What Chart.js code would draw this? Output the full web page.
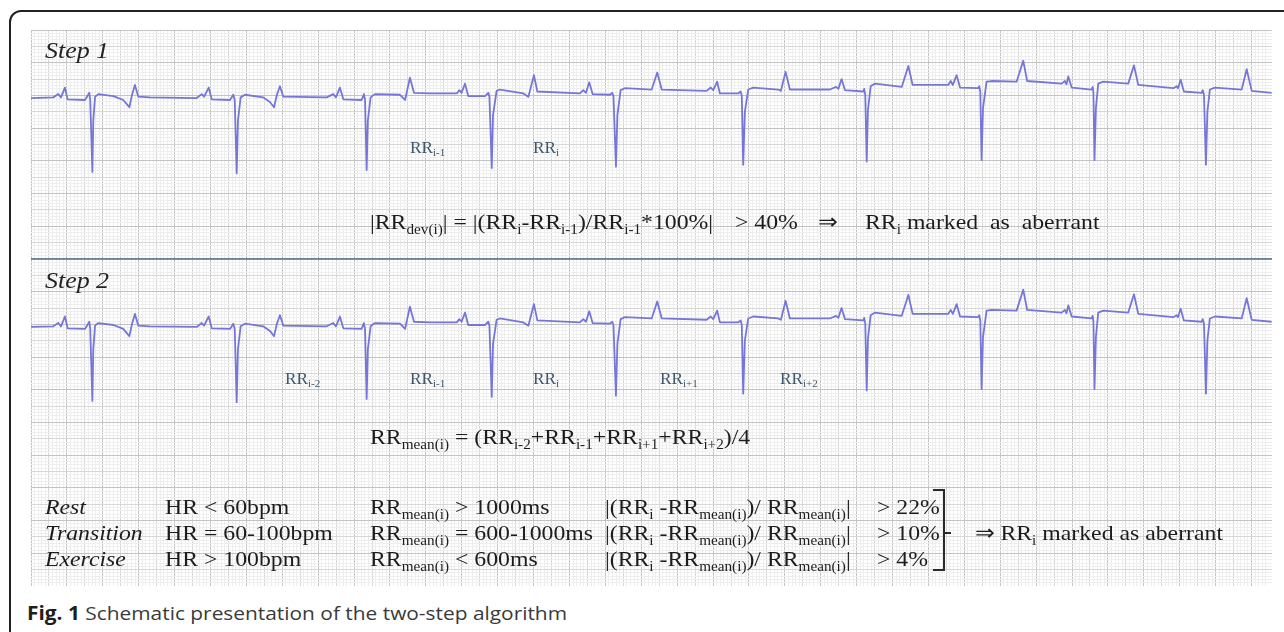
<!DOCTYPE html>
<html>
<head>
<meta charset="utf-8">
<script src="https://cdn.jsdelivr.net/npm/chart.js@4.4.1/dist/chart.umd.min.js"></script>
<style>
  html,body{margin:0;padding:0;background:#fff;}
  #page{position:relative;width:1284px;height:632px;overflow:hidden;background:#fff;}
  #frame{position:absolute;left:9px;top:10px;width:1320px;height:700px;border:2px solid #222;border-radius:12px;box-sizing:border-box;}
  #ecg{position:absolute;left:31px;top:30px;}
  .t{position:absolute;white-space:nowrap;line-height:1;font-family:"Liberation Serif","Times New Roman",serif;color:#1c1c1c;transform:scaleX(1.08);transform-origin:0 0;z-index:2;}
  .t sub{font-size:64%;vertical-align:-0.34em;line-height:0;}
  .step{font-size:24px;font-style:italic;color:#222;}
  .rr{font-size:16px;color:#3e566e;}
  .f{font-size:22px;}
  .it{font-style:italic;}
  #bracket{position:absolute;left:933px;top:489px;width:10px;height:78px;border:2px solid #2a2a2a;border-left:none;z-index:2;}
  #btick{position:absolute;left:945px;top:532px;width:6px;height:2px;background:#2a2a2a;z-index:2;}
  #cap{position:absolute;left:27px;top:604px;white-space:nowrap;line-height:1;font-family:"Open Sans",sans-serif;font-size:19px;color:#3a3a3a;transform-origin:0 0;}
  #cap b{color:#1e1e1e;}
</style>
</head>
<body>
<div id="page">
  <div id="frame"></div>
  <canvas id="ecg" width="1241" height="556"></canvas>

  <div class="t step" style="left:45px;top:38px;">Step 1</div>
  <div class="t step" style="left:45px;top:268px;">Step 2</div>

  <div class="t rr" style="left:410px;top:140px;">RR<sub>i-1</sub></div>
  <div class="t rr" style="left:533px;top:140px;">RR<sub>i</sub></div>

  <div class="t f" style="left:370px;top:211px;">|RR<sub>dev(i)</sub>| = |(RR<sub>i</sub>-RR<sub>i-1</sub>)/RR<sub>i-1</sub>*100%|</div>
  <div class="t f" style="left:735px;top:211px;">&gt; 40%</div>
  <div class="t f" style="left:818px;top:211px;">&rArr;</div>
  <div class="t f" style="left:865px;top:211px;">RR<sub>i</sub> marked&nbsp; as&nbsp; aberrant</div>

  <div class="t rr" style="left:285px;top:371px;">RR<sub>i-2</sub></div>
  <div class="t rr" style="left:410px;top:371px;">RR<sub>i-1</sub></div>
  <div class="t rr" style="left:533px;top:371px;">RR<sub>i</sub></div>
  <div class="t rr" style="left:660px;top:371px;">RR<sub>i+1</sub></div>
  <div class="t rr" style="left:780px;top:371px;">RR<sub>i+2</sub></div>

  <div class="t f" style="left:370px;top:426px;">RR<sub>mean(i)</sub> = (RR<sub>i-2</sub>+RR<sub>i-1</sub>+RR<sub>i+1</sub>+RR<sub>i+2</sub>)/4</div>

  <div class="t f it" style="left:45px;top:496px;">Rest</div>
  <div class="t f" style="left:165px;top:496px;">HR &lt; 60bpm</div>
  <div class="t f" style="left:370px;top:496px;">RR<sub>mean(i)</sub> &gt; 1000ms</div>
  <div class="t f" style="left:605px;top:496px;">|(RR<sub>i</sub> -RR<sub>mean(i)</sub>)/ RR<sub>mean(i)</sub>|</div>
  <div class="t f" style="left:877px;top:496px;">&gt; 22%</div>

  <div class="t f it" style="left:45px;top:522px;">Transition</div>
  <div class="t f" style="left:165px;top:522px;">HR = 60-100bpm</div>
  <div class="t f" style="left:370px;top:522px;">RR<sub>mean(i)</sub> = 600-1000ms</div>
  <div class="t f" style="left:605px;top:522px;">|(RR<sub>i</sub> -RR<sub>mean(i)</sub>)/ RR<sub>mean(i)</sub>|</div>
  <div class="t f" style="left:877px;top:522px;">&gt; 10%</div>
  <div class="t f" style="left:975px;top:522px;">&rArr; RR<sub>i</sub> marked as aberrant</div>

  <div class="t f it" style="left:45px;top:548px;">Exercise</div>
  <div class="t f" style="left:165px;top:548px;">HR &gt; 100bpm</div>
  <div class="t f" style="left:370px;top:548px;">RR<sub>mean(i)</sub> &lt; 600ms</div>
  <div class="t f" style="left:605px;top:548px;">|(RR<sub>i</sub> -RR<sub>mean(i)</sub>)/ RR<sub>mean(i)</sub>|</div>
  <div class="t f" style="left:877px;top:548px;">&gt; 4%</div>

  <div id="bracket"></div>
  <div id="btick"></div>

  <div id="cap"><b>Fig. 1</b> Schematic presentation of the two-step algorithm</div>
</div>

<script>
// ECG strip: time (ms) and amplitude (mV, relative to the isoelectric line)
const ecgTimeMs = [0,124,152,167,189,204,301,325,330,342,347,357,375,459,514,548,563,579,598,663,
  923,951,964,990,1007,1109,1127,1135,1146,1153,1168,1192,1294,1331,1354,1370,1387,1406,1647,1684,
  1699,1721,1740,1842,1855,1861,1870,1877,1892,1916,2056,2084,2111,2134,2223,
  2372,2386,2399,2418,2436,2529,2548,2554,2567,2574,2594,2613,2743,2771,2802,2821,3058,3077,3092,3110,
  3129,3226,3238,3245,3259,3267,3285,3309,3458,3489,3514,3764,3787,3801,3823,3838,3940,3954,3960,3968,
  3977,3996,4024,4163,4178,4204,4228,4451,
  4485,4498,4516,4535,4637,4642,4648,4656,4663,4678,4702,4851,4888,4912,5110,5124,5136,5157,5176,5277,
  5283,5289,5296,5304,5324,5352,5491,5528,5550,5742,5760,5769,5779,5798,5909,5915,5919,5925,5933,5946,
  5974,6113,6145,6169,6364,6383,6390,6405,6423,6522,6528,6535,6546,6554,6568,6596,6745,6773,6801,6912];
const ecgMilliVolts = [0,0.01,0.06,0.01,0.16,-0.02,-0.03,0.08,-0.03,-1.13,-0.34,0.02,0.06,0.03,-0.03,-0.14,0.05,0.20,0.02,0.01,
  0.00,0.06,0.02,0.16,-0.02,-0.03,0.05,-0.03,-1.15,-0.34,0.01,0.05,0.01,-0.06,-0.14,0.05,0.18,0.02,0.01,0.06,
  0.01,0.16,-0.02,-0.03,0.06,-0.03,-1.10,-0.34,0.01,0.06,0.05,-0.03,0.31,0.08,0.07,
  0.07,0.12,0.08,0.22,0.03,0.03,0.08,0.02,-1.07,-0.26,0.11,0.13,0.07,0.02,0.35,0.10,0.07,0.12,0.08,0.24,
  0.06,0.05,0.08,0.03,-1.05,-0.26,0.12,0.15,0.13,0.39,0.13,0.11,0.16,0.12,0.25,0.07,0.07,0.10,0.03,-1.02,
  -0.21,0.13,0.16,0.13,0.11,0.40,0.13,0.13,
  0.17,0.14,0.29,0.12,0.10,0.14,0.05,-0.97,-0.18,0.18,0.22,0.17,0.49,0.20,0.20,0.26,0.20,0.35,0.16,0.15,
  0.18,0.09,-0.95,-0.15,0.25,0.26,0.25,0.57,0.26,0.22,0.26,0.21,0.33,0.16,0.13,0.17,0.09,-0.95,-0.15,0.22,
  0.25,0.22,0.50,0.20,0.15,0.18,0.15,0.28,0.10,0.08,0.12,0.05,-1.02,-0.21,0.13,0.16,0.13,0.44,0.11,0.08];

// Panel divider position on the paper (mV from the bottom of the grid)
const dividerMv = [5.0, 5.0];
const dividerMs = [0, 6914];

const strip = ecgTimeMs.map((t, i) => ({x: t, y: ecgMilliVolts[i]}));
const divider = dividerMs.map((t, i) => ({x: t, y: dividerMv[i]}));

const MAJOR = '#c3c3c3', HALF = '#d7d7d7', MINOR = '#eeeeee';

new Chart(document.getElementById('ecg'), {
  type: 'line',
  data: {
    datasets: [
      {data: strip, xAxisID: 'x', yAxisID: 'yTop', borderColor: '#7676d8', borderWidth: 1.8,
       pointRadius: 0, tension: 0, borderJoinStyle: 'round'},
      {data: strip, xAxisID: 'x', yAxisID: 'yBot', borderColor: '#7676d8', borderWidth: 1.8,
       pointRadius: 0, tension: 0, borderJoinStyle: 'round'},
      {data: divider, xAxisID: 'x', yAxisID: 'y', borderColor: '#4f6d8c', borderWidth: 1.6,
       pointRadius: 0, tension: 0}
    ]
  },
  options: {
    responsive: false,
    animation: false,
    events: [],
    layout: {padding: 0},
    plugins: {legend: {display: false}, tooltip: {enabled: false}},
    scales: {
      x: {
        type: 'linear', min: 0, max: 6914,
        ticks: {display: false, stepSize: 20, autoSkip: false},
        border: {display: false},
        grid: {drawTicks: false,
          color: c => (c.index % 10 === 0 ? MAJOR : (c.index % 5 === 0 ? HALF : MINOR))}
      },
      y: {
        type: 'linear', min: 0, max: 8.5,
        ticks: {display: false, stepSize: 0.05, autoSkip: false},
        border: {display: false},
        grid: {drawTicks: false,
          color: c => (c.index % 10 === 0 ? MAJOR : (c.index % 5 === 0 ? HALF : MINOR))}
      },
      yTop: {type: 'linear', display: false, min: -7.46, max: 1.04},
      yBot: {type: 'linear', display: false, min: -3.96, max: 4.54}
    }
  }
});

// stretch the caption to the width it has in the figure
const cap = document.getElementById('cap');
const w = cap.getBoundingClientRect().width;
cap.style.transform = 'scaleX(' + (540 / w) + ')';
</script>
</body>
</html>
